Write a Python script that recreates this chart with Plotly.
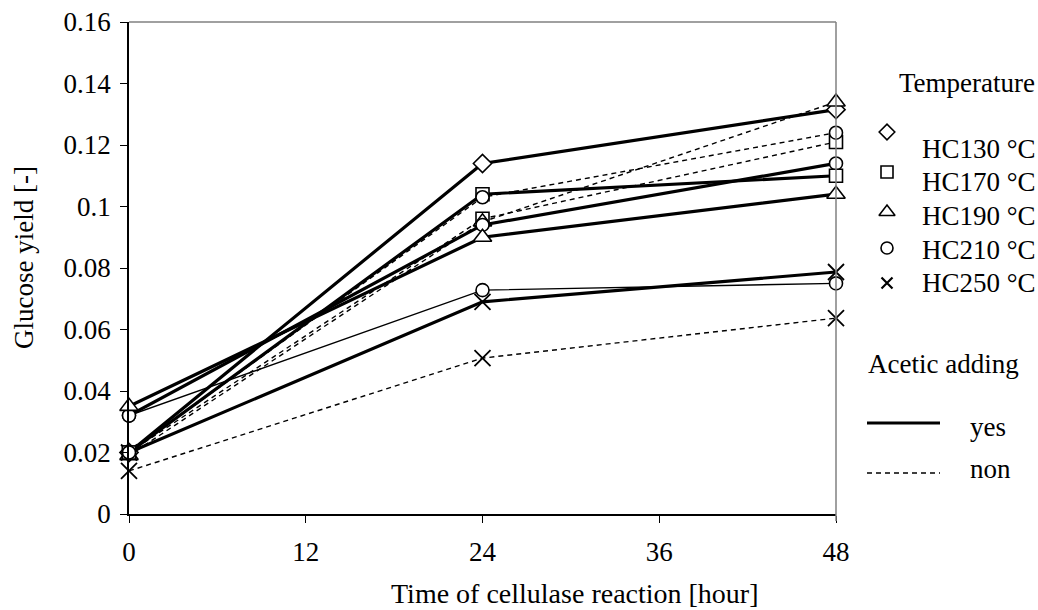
import plotly.graph_objects as go

# Reaction time points [hour]
hours = [0, 24, 48]

# Glucose yield with acetic acid added ("yes")
hc130_yes = [0.020, 0.114, 0.1315]
hc170_yes = [0.020, 0.104, 0.110]
hc190_yes = [0.035, 0.090, 0.104]
hc210_yes = [0.032, 0.094, 0.114]
hc210_yes_b = [0.032, 0.0728, 0.075]
hc250_yes = [0.020, 0.069, 0.0787]

# Glucose yield without acetic acid ("non")
hc170_non = [0.020, 0.096, 0.121]
hc190_non = [0.019, 0.095, 0.134]
hc210_non = [0.020, 0.103, 0.124]
hc250_non = [0.014, 0.0507, 0.0637]

x_ticks = [0, 12, 24, 36, 48]
y_ticks = [0, 0.02, 0.04, 0.06, 0.08, 0.1, 0.12, 0.14, 0.16]
y_ticktext = ["0", "0.02", "0.04", "0.06", "0.08", "0.1", "0.12", "0.14", "0.16"]

legend_temps = ["HC130 °C", "HC170 °C", "HC190 °C", "HC210 °C", "HC250 °C"]
legend_symbols = ["diamond", "square", "triangle-up", "circle", "x-thin-open"]

W, H = 1038, 610
L, R, T, B = 129, 836, 22, 514   # plot frame in page pixels
FONT = "Times New Roman, Liberation Serif, serif"
FS = 27

fig = go.Figure()


def marker_style(symbol, size, legend=False):
    if symbol == "x-thin-open":
        return dict(symbol=symbol, size=size, color="black",
                    line=dict(color="black", width=2.2 if legend else 1.8))
    return dict(symbol=symbol, size=size, color="white",
                line=dict(color="black", width=1.6))


def series(y, symbol, width, dash="solid", size=13):
    fig.add_trace(go.Scatter(
        x=hours, y=y, mode="lines+markers", cliponaxis=False,
        line=dict(color="black", width=width, dash=dash),
        marker=marker_style(symbol, size),
        showlegend=False,
    ))


DASH = "5px,4px"
series(hc130_yes, "diamond", 3.2, size=14)
series(hc250_non, "x-thin-open", 1.4, DASH, 16)
series(hc170_non, "square", 1.4, DASH)
series(hc190_non, "triangle-up", 1.4, DASH, 16)
series(hc210_yes_b, "circle", 1.4)
series(hc250_yes, "x-thin-open", 3.2, size=16)
series(hc210_yes, "circle", 3.2)
series(hc190_yes, "triangle-up", 3.2, size=16)
series(hc170_yes, "square", 3.2)
series(hc210_non, "circle", 1.4, DASH)

# Legend drawn on a page-pixel overlay axis
leg_y = [132, 172, 212, 248, 283]
for sym, yy in zip(legend_symbols, leg_y):
    size = 11 if sym == "x-thin-open" else (14 if sym == "triangle-up" else 12)
    fig.add_trace(go.Scatter(
        x=[887], y=[yy], xaxis="x2", yaxis="y2", mode="markers", cliponaxis=False,
        marker=marker_style(sym, size, legend=True),
        showlegend=False,
    ))
fig.add_trace(go.Scatter(x=[867, 940], y=[423, 423], xaxis="x2", yaxis="y2", mode="lines",
                         line=dict(color="black", width=3.2), showlegend=False))
fig.add_trace(go.Scatter(x=[867, 940], y=[473, 473], xaxis="x2", yaxis="y2", mode="lines",
                         line=dict(color="black", width=1.4, dash=DASH), showlegend=False))

ann = []
def text(x, y, s, xanchor="left", angle=0, size=FS):
    ann.append(dict(x=x, y=y, xref="x2", yref="y2", text=s, showarrow=False,
                    xanchor=xanchor, yanchor="middle", textangle=angle,
                    font=dict(family=FONT, size=size, color="black")))

text(897, 83, "Temperature")
for lab, yy in zip(legend_temps, [149, 182, 216, 250, 283]):
    text(920, yy, lab)
text(866, 364, "Acetic adding")
text(968, 427, "yes")
text(968, 469, "non")
text(575, 593, "Time of cellulase reaction [hour]", xanchor="center", size=28)
text(24, 258, "Glucose yield [-]", xanchor="center", angle=-90)

# Grey top and right frame lines
shapes = [
    dict(type="line", xref="x2", yref="y2", x0=L, x1=R, y0=T, y1=T, line=dict(color="#808080", width=1.5)),
    dict(type="line", xref="x2", yref="y2", x0=R, x1=R, y0=T, y1=B + 7, line=dict(color="#808080", width=1.5)),
]

fig.update_layout(
    width=W, height=H, template="none",
    margin=dict(l=0, r=0, t=0, b=0),
    paper_bgcolor="white", plot_bgcolor="rgba(0,0,0,0)",
    font=dict(family=FONT, size=FS, color="black"),
    annotations=ann, shapes=shapes,
    xaxis=dict(domain=[L / W, R / W], range=[0, 48], tickvals=x_ticks,
               showgrid=False, zeroline=False, showline=True, linecolor="black", linewidth=1.5,
               ticks="outside", ticklen=7, tickwidth=1.2, tickcolor="black",
               tickfont=dict(family=FONT, size=FS, color="black"), ticklabelstandoff=6,
               automargin=False, anchor="y"),
    yaxis=dict(domain=[(H - B) / H, (H - T) / H], range=[0, 0.16], tickvals=y_ticks, ticktext=y_ticktext,
               showgrid=False, zeroline=False, showline=True, linecolor="black", linewidth=1.5,
               ticks="outside", ticklen=7, tickwidth=1.2, tickcolor="black",
               tickfont=dict(family=FONT, size=FS, color="black"), ticklabelstandoff=4,
               automargin=False, anchor="x"),
    xaxis2=dict(domain=[0, 1], range=[0, W], visible=False, anchor="y2", fixedrange=True),
    yaxis2=dict(domain=[0, 1], range=[H, 0], visible=False, anchor="x2", fixedrange=True),
)

fig.write_html("out.html")
